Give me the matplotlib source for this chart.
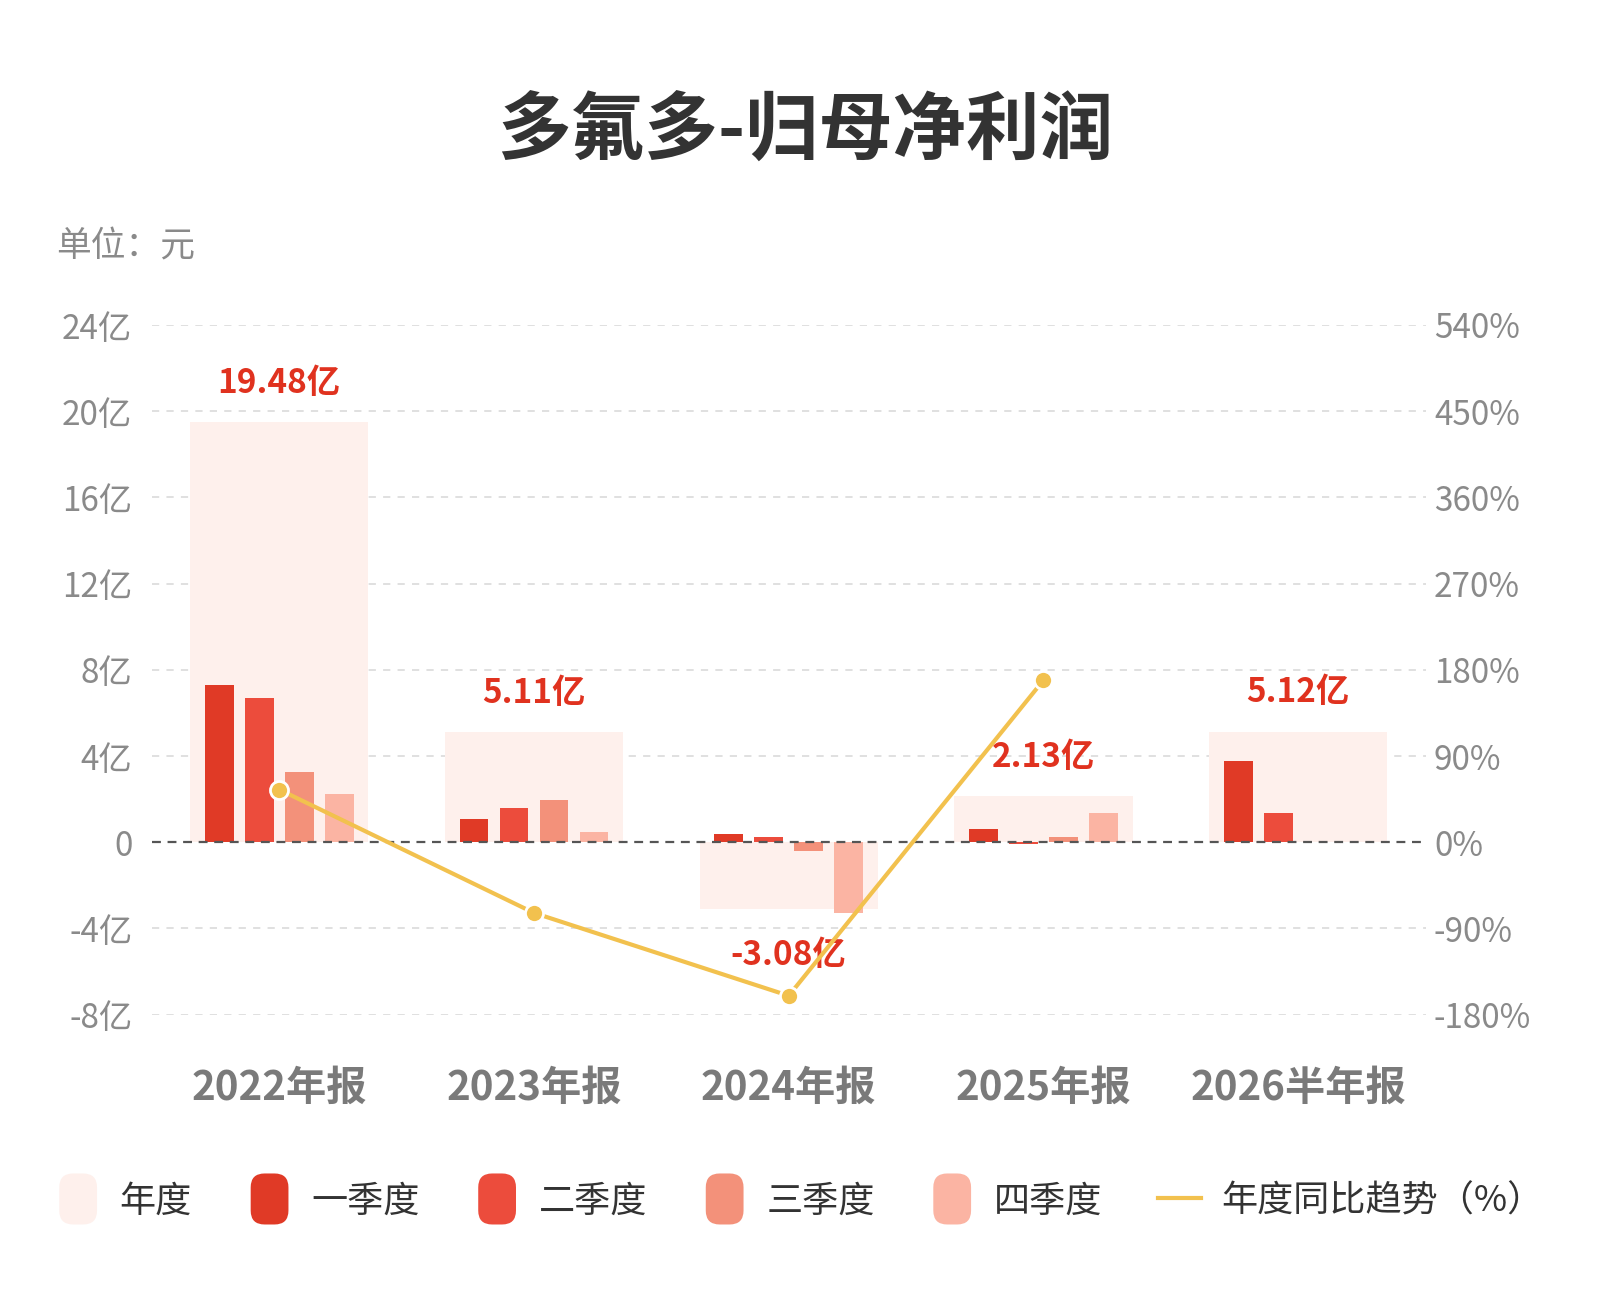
import numpy as np
import matplotlib
matplotlib.use('Agg')
import matplotlib.pyplot as plt
from matplotlib.patches import Patch, FancyBboxPatch
from matplotlib.lines import Line2D
from matplotlib.legend_handler import HandlerPatch

plt.rcParams['font.family'] = ['Noto Sans CJK SC', 'DejaVu Sans']

# data (亿元)
periods = ['2022年报', '2023年报', '2024年报', '2025年报', '2026半年报']
annual = [19.48, 5.11, -3.08, 2.13, 5.12]
annual_labels = ['19.48亿', '5.11亿', '-3.08亿', '2.13亿', '5.12亿']
q1 = [7.31, 1.10, 0.38, 0.63, 3.76]
q2 = [6.70, 1.58, 0.24, -0.07, 1.36]
q3 = [3.25, 1.95, -0.42, 0.23, np.nan]
q4 = [2.22, 0.48, -3.28, 1.34, np.nan]
yoy = [55.0, -73.8, -160.3, 169.2, np.nan]  # %

left_ticks = [-8, -4, 0, 4, 8, 12, 16, 20, 24]
left_ticklabels = ['-8亿', '-4亿', '0', '4亿', '8亿', '12亿', '16亿', '20亿', '24亿']
right_ticks = [-180, -90, 0, 90, 180, 270, 360, 450, 540]
right_ticklabels = ['-180%', '-90%', '0%', '90%', '180%', '270%', '360%', '450%', '540%']

c_year = '#FEF0EC'
c_q = ['#E03A26', '#EC4C3C', '#F3917A', '#FBB4A3']
c_line = '#F2C14E'
c_label = '#E0321F'
c_tick = '#8A8A8A'

W, H = 1560, 1280
fig = plt.figure(figsize=(16, 13), dpi=100)
ax = fig.add_axes([148 / W, 1 - 999 / H, (1390 - 148) / W, (999 - 320) / H])
ax2 = ax.twinx()

x = np.arange(len(periods))
ax.bar(x, annual, width=0.70, color=c_year, zorder=1)
bw, step = 0.113, 0.157
for i, (vals, col) in enumerate(zip([q1, q2, q3, q4], c_q)):
    ax.bar(x + (i - 1.5) * step, vals, width=bw, color=col, zorder=2)

for xi, v, lab in zip(x, annual, annual_labels):
    if v >= 0:
        ax.annotate(lab, (xi, v), xytext=(0, 28), textcoords='offset points',
                    ha='center', va='center', fontsize=24, fontweight='bold',
                    color=c_label, zorder=6)
    else:
        ax.annotate(lab, (xi, v), xytext=(0, -34), textcoords='offset points',
                    ha='center', va='center', fontsize=24, fontweight='bold',
                    color=c_label, zorder=6)

ax.set_xlim(-0.5, 4.5)
ax.set_ylim(-8, 24)
ax2.set_ylim(-180, 540)
ax.set_yticks(left_ticks)
ax.set_yticklabels(left_ticklabels)
ax2.set_yticks(right_ticks)
ax2.set_yticklabels(right_ticklabels)
ax.set_xticks(x)
ax.set_xticklabels(periods, fontsize=29, fontweight='bold', color='#7A7A7A')
ax.tick_params(axis='x', length=0, pad=38)
ax.tick_params(axis='y', length=0, pad=14, labelsize=24, labelcolor=c_tick)
ax2.tick_params(axis='y', length=0, pad=6, labelsize=24, labelcolor=c_tick)
for a in (ax, ax2):
    for s in a.spines.values():
        s.set_visible(False)

for t in left_ticks:
    if t == 0:
        ax.axhline(0, color='#555555', lw=1.6, ls=(0, (4, 3)), zorder=3)
    else:
        ax.axhline(t, color='#DDDDDD', lw=1.3, ls=(0, (4, 4)), zorder=0)

ax2.plot(x, yoy, color=c_line, lw=3, marker='o', markersize=13,
         markerfacecolor=c_line, markeredgecolor='white', markeredgewidth=2,
         zorder=5)
ax2.set_zorder(ax.get_zorder() + 1)
ax2.patch.set_visible(False)

fig.text(0.503, 1 - 130 / H, '多氟多-归母净利润', fontsize=53, fontweight='bold',
         color='#333333', ha='center', va='center')
fig.text(55 / W, 1 - 243 / H, '单位：元', fontsize=25, color='#8A8A8A',
         ha='left', va='center')


class RoundHandler(HandlerPatch):
    def create_artists(self, legend, orig_handle, xdescent, ydescent,
                       width, height, fontsize, trans):
        p = FancyBboxPatch((-xdescent + 2, -ydescent - 8), width - 4, height + 16,
                           boxstyle='round,pad=0,rounding_size=10',
                           facecolor=orig_handle.get_facecolor(),
                           edgecolor='none', transform=trans)
        return [p]


handles = [Patch(color=c_year, label='年度')]
handles += [Patch(color=c, label=l) for c, l in zip(c_q, ['一季度', '二季度', '三季度', '四季度'])]
handles.append(Line2D([], [], color=c_line, lw=3, label='年度同比趋势（%）'))
hm = {h: RoundHandler() for h in handles[:5]}
fig.legend(handles=handles, handler_map=hm, loc='center', ncol=6,
           bbox_to_anchor=(0.5, 1 - 1183 / H), frameon=False, fontsize=26,
           labelcolor='#333333', handlelength=1.2, handleheight=0.85,
           handletextpad=0.55, columnspacing=1.55)

fig.savefig('out.png', dpi=100, facecolor='white')
